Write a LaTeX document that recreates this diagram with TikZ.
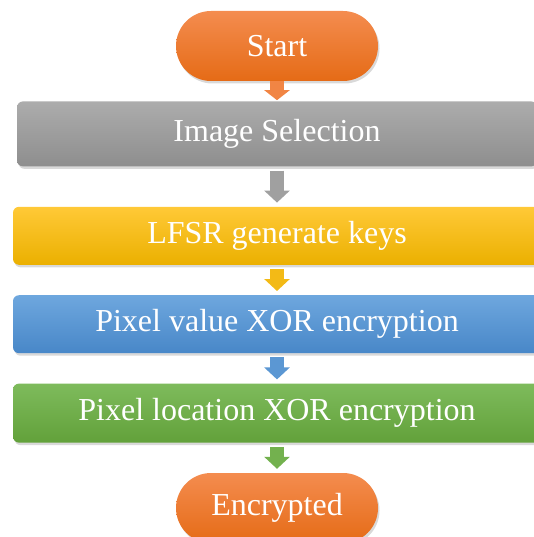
\documentclass[tikz,border=0pt]{standalone}
\usepackage{fontspec}
\setmainfont{Liberation Serif}
\usetikzlibrary{
  positioning,
  shadows,
  arrows.meta
}
\definecolor{orangetop}{HTML}{F48C4F}
\definecolor{orangebot}{HTML}{E56B16}
\definecolor{graytop}{HTML}{ACACAC}
\definecolor{graybot}{HTML}{8E8E8E}
\definecolor{yellowtop}{HTML}{FFC937}
\definecolor{yellowbot}{HTML}{EBB000}
\definecolor{bluetop}{HTML}{6EA7DE}
\definecolor{bluebot}{HTML}{4887C8}
\definecolor{greentop}{HTML}{7EBB5C}
\definecolor{greenbot}{HTML}{62A13A}
\tikzset{
  flow box/.style={
    rectangle,
    rounded corners=6pt,
    minimum width=528pt,
    text=white,
    font=\fontsize{32}{36}\selectfont,
    drop shadow={shadow xshift=1.5pt, shadow yshift=-2.5pt, opacity=.3}
  },
  terminal/.style={
    flow box,
    rounded corners=35pt,
    minimum width=202pt,
    minimum height=70pt,
    top color=orangetop,
    bottom color=orangebot
  },
  step arrow/.style={
    line width=14pt,
    -{Triangle[width=25pt,length=12pt]},
    shorten >=4pt,
    shorten <=4pt
  }
}
\begin{document}
\begin{tikzpicture}[x=1pt, y=1pt]
  \useasboundingbox (0,0) rectangle (534,-537);
  \clip (0,0) rectangle (534,-537);

  \node[terminal] (start) at (277,-46) {Start};
  \node[flow box, minimum width=520pt, minimum height=65pt,
    top color=graytop, bottom color=graybot,
    below=20pt of start] (img) {Image Selection};
  \node[flow box, minimum height=58pt,
    top color=yellowtop, bottom color=yellowbot,
    below=40pt of img] (lfsr) {LFSR generate keys};
  \node[flow box, minimum height=58pt,
    top color=bluetop, bottom color=bluebot,
    below=30pt of lfsr] (pxval) {Pixel value XOR encryption};
  \node[flow box, minimum height=59pt,
    top color=greentop, bottom color=greenbot,
    below=30pt of pxval] (pxloc) {Pixel location XOR encryption};
  \node[terminal, below=30pt of pxloc] (enc) {Encrypted};

  \draw[step arrow, shorten <=0pt, shorten >=1pt, color=orangetop!80!orangebot,
    -{Triangle[width=25pt,length=10pt]}] (start) -- (img);
  \draw[step arrow, color=graytop!60!graybot] (img) -- (lfsr);
  \draw[step arrow, color=yellowtop!40!yellowbot] (lfsr) -- (pxval);
  \draw[step arrow, color=bluetop!50!bluebot] (pxval) -- (pxloc);
  \draw[step arrow, color=greentop!60!greenbot] (pxloc) -- (enc);
\end{tikzpicture}
\end{document}
